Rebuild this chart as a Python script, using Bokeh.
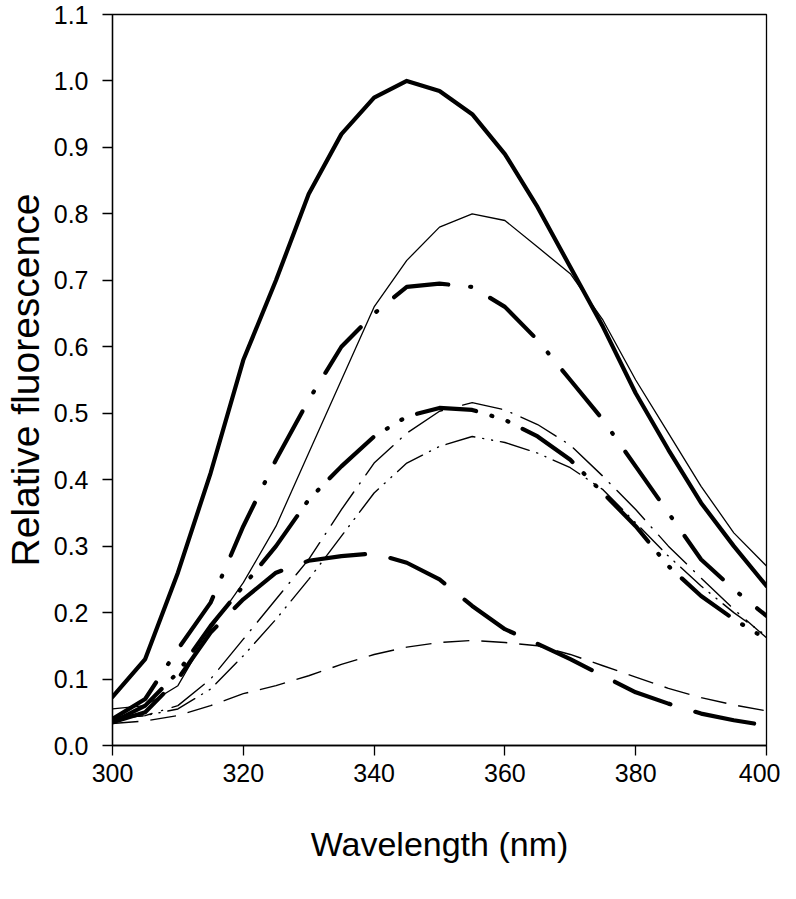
from bokeh.plotting import figure
from bokeh.embed import file_html
from bokeh.resources import INLINE
from bokeh.models import Range1d, FixedTicker

wavelength = [300, 305, 310, 315, 320, 325, 330, 335, 340, 345, 350,
              355, 360, 365, 370, 375, 380, 385, 390, 395, 400]

thick_solid = [0.073, 0.13, 0.26, 0.41, 0.58, 0.70, 0.83, 0.92, 0.975, 1.0, 0.985,
               0.95, 0.89, 0.81, 0.72, 0.63, 0.53, 0.445, 0.365, 0.30, 0.24]
thin_solid = [0.055, 0.06, 0.09, 0.175, 0.245, 0.33, 0.44, 0.55, 0.66, 0.73, 0.78,
              0.80, 0.79, 0.75, 0.71, 0.64, 0.55, 0.47, 0.39, 0.32, 0.27]
thick_dash_dot = [0.04, 0.07, 0.145, 0.215, 0.33, 0.43, 0.52, 0.60, 0.65, 0.69, 0.695,
                  0.69, 0.66, 0.61, 0.55, 0.49, 0.42, 0.35, 0.28, 0.235, 0.195]
thick_dash_dot_dot = [0.035, 0.06, 0.11, 0.18, 0.24, 0.30, 0.37, 0.42, 0.465, 0.495, 0.508,
                      0.505, 0.49, 0.465, 0.43, 0.38, 0.33, 0.27, 0.225, 0.19, 0.16]
thin_long_dash_dot = [0.04, 0.045, 0.06, 0.10, 0.16, 0.22, 0.28, 0.355, 0.425, 0.47, 0.503,
                      0.516, 0.505, 0.483, 0.452, 0.405, 0.355, 0.30, 0.252, 0.205, 0.162]
thin_dash_dot_dot = [0.04, 0.045, 0.055, 0.085, 0.135, 0.19, 0.25, 0.315, 0.38, 0.425, 0.45,
                     0.465, 0.456, 0.44, 0.418, 0.385, 0.335, 0.285, 0.24, 0.20, 0.165]
thick_long_dash = [0.035, 0.05, 0.10, 0.17, 0.22, 0.26, 0.278, 0.285, 0.289, 0.275, 0.25,
                   0.21, 0.175, 0.153, 0.13, 0.105, 0.08, 0.063, 0.048, 0.038, 0.03]
thin_dash = [0.033, 0.037, 0.045, 0.06, 0.078, 0.09, 0.105, 0.122, 0.137, 0.148, 0.155,
             0.158, 0.155, 0.15, 0.137, 0.12, 0.103, 0.086, 0.072, 0.061, 0.052]

x_ticks = [300, 320, 340, 360, 380, 400]
y_ticks = [0.0, 0.1, 0.2, 0.3, 0.4, 0.5, 0.6, 0.7, 0.8, 0.9, 1.0, 1.1]

p = figure(width=780, height=880, output_backend="svg", toolbar_location=None,
           x_range=Range1d(300, 400), y_range=Range1d(0, 1.1),
           min_border_left=106, min_border_right=14, min_border_top=14, min_border_bottom=135)
p.background_fill_color = "white"
p.border_fill_color = "white"
p.outline_line_color = "black"
p.outline_line_width = 1.3
p.xgrid.visible = False
p.ygrid.visible = False

FONT = "Liberation Sans"
p.xaxis.ticker = FixedTicker(ticks=x_ticks)
p.yaxis.ticker = FixedTicker(ticks=y_ticks)
p.yaxis.major_label_overrides = {t: f"{t:.1f}" for t in y_ticks}
for ax in (p.xaxis, p.yaxis):
    ax.axis_line_color = "black"
    ax.axis_line_width = 1.3
    ax.major_tick_line_color = "black"
    ax.major_tick_line_width = 1.3
    ax.major_tick_out = 10
    ax.major_tick_in = 0
    ax.minor_tick_line_color = None
    ax.major_label_text_font = FONT
    ax.major_label_text_font_size = "25px"
    ax.major_label_text_color = "black"
    ax.axis_label_text_font = FONT
    ax.axis_label_text_font_style = "normal"
    ax.axis_label_text_color = "black"
p.xaxis.axis_label = "Wavelength (nm)"
p.yaxis.axis_label = "Relative fluorescence"
p.xaxis.axis_label_text_font_size = "34px"
p.yaxis.axis_label_text_font_size = "39px"
p.xaxis.major_label_standoff = 8
p.yaxis.major_label_standoff = 14
p.xaxis.axis_label_standoff = 40
p.yaxis.axis_label_standoff = 4

p.line(wavelength, thick_solid, line_color="black", line_width=4.2, line_cap="round",
       line_join="round")
p.line(wavelength, thin_solid, line_color="black", line_width=1.3, line_join="round")
p.line(wavelength, thick_dash_dot, line_color="black", line_width=4.2, line_cap="round",
       line_join="round", line_dash="58 22 1 22")
p.line(wavelength, thick_dash_dot_dot, line_color="black", line_width=4.2, line_cap="round",
       line_join="round", line_dash="60 16 1 16 1 16")
p.line(wavelength, thin_long_dash_dot, line_color="black", line_width=1.4, line_cap="round",
       line_join="round", line_dash="40 10 1 10")
p.line(wavelength, thin_dash_dot_dot, line_color="black", line_width=1.4, line_cap="round",
       line_join="round", line_dash="30 8 1 8 1 8")
p.line(wavelength, thick_long_dash, line_color="black", line_width=4.2, line_cap="round",
       line_join="round", line_dash="60 26")
p.line(wavelength, thin_dash, line_color="black", line_width=1.4, line_join="round",
       line_dash="26 12")

open("out.html", "w").write(file_html(p, INLINE))
